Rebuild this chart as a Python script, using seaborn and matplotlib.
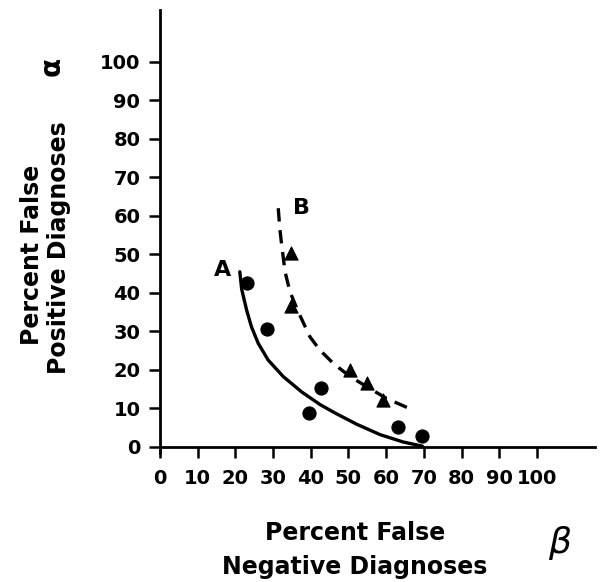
import numpy as np
import pandas as pd
import seaborn as sns
import matplotlib.pyplot as plt

# measured points (percent false negative, percent false positive)
a_x = [23.0, 28.3, 39.6, 42.6, 63.2, 69.6]
a_y = [42.5, 30.6, 8.9, 15.2, 5.1, 2.9]
b_x = [34.9, 34.9, 50.4, 54.8, 59.2]
b_y = [50.3, 36.6, 20.0, 16.5, 12.2]

# fitted curves
curve_a_x = [21.2, 21.7, 23.0, 24.3, 26.1, 28.7, 32.7, 37.6, 42.5, 46.5, 52.2, 58.4, 64.5, 69.6]
curve_a_y = [45.5, 41.0, 35.6, 31.2, 26.9, 22.6, 18.3, 14.3, 11.0, 8.8, 5.9, 3.2, 1.3, 0.2]
curve_b_x = [31.4, 31.8, 32.3, 33.2, 34.5, 36.7, 39.8, 42.4, 46.0, 50.4, 54.8, 60.1, 65.9]
curve_b_y = [62.0, 56.8, 52.5, 45.5, 40.3, 35.1, 28.6, 25.2, 21.7, 18.3, 15.7, 12.6, 10.1]

ticks = [0, 10, 20, 30, 40, 50, 60, 70, 80, 90, 100]

sns.set_style("ticks")
plt.rcParams['font.family'] = ['DejaVu Sans']
plt.rcParams['text.color'] = 'black'

fig = plt.figure(figsize=(6.03, 5.82), dpi=100)
ax = fig.add_axes([0.265, 0.232, 0.722, 0.751])

ca = pd.DataFrame({"x": curve_a_x, "y": curve_a_y})
cb = pd.DataFrame({"x": curve_b_x, "y": curve_b_y})
sns.lineplot(data=ca, x="x", y="y", sort=False, ax=ax, color="black", lw=2.4)
sns.lineplot(data=cb, x="x", y="y", sort=False, ax=ax, color="black", lw=2.4,
             linestyle=(0, (4, 2.6)))

pa = pd.DataFrame({"x": a_x, "y": a_y})
pb = pd.DataFrame({"x": b_x, "y": b_y})
sns.scatterplot(data=pa, x="x", y="y", ax=ax, color="black", marker="o", s=90,
                edgecolor="black", zorder=5)
sns.scatterplot(data=pb, x="x", y="y", ax=ax, color="black", marker="^", s=90,
                edgecolor="black", zorder=5)

ax.set_xlim(0, 115.4)
ax.set_ylim(0, 113.5)
ax.set_xticks(ticks)
ax.set_yticks(ticks)
ax.set_xticklabels([str(t) for t in ticks], fontsize=14, fontweight="bold")
ax.set_yticklabels([str(t) for t in ticks], fontsize=14, fontweight="bold")
ax.tick_params(length=8, width=1.8, direction="out", pad=6, colors="black")
ax.tick_params(axis="x", pad=8)
for s in ["top", "right"]:
    ax.spines[s].set_visible(False)
for s in ["left", "bottom"]:
    ax.spines[s].set_linewidth(2)
    ax.spines[s].set_color("black")
ax.spines["left"].set_bounds(-1.5, 113.5)
ax.set_xlabel("")
ax.set_ylabel("")

ax.text(16.5, 46, "A", fontsize=16, fontweight="bold", ha="center", va="center")
ax.text(37.5, 62, "B", fontsize=16, fontweight="bold", ha="center", va="center")

lab = dict(fontsize=17, fontweight="bold", ha="center", va="center")
fig.text(355 / 603, 1 - 533 / 582, "Percent False", **lab)
fig.text(355 / 603, 1 - 567 / 582, "Negative Diagnoses", **lab)
fig.text(560 / 603, 1 - 543 / 582, "β", fontsize=26, style="italic", ha="center", va="center")

fig.text(32 / 603, 1 - 255 / 582, "Percent False", rotation=90, **lab)
fig.text(59 / 603, 1 - 248 / 582, "Positive Diagnoses", rotation=90, **lab)
fig.text(52 / 603, 1 - 66 / 582, "α", fontsize=20, fontweight="bold", rotation=90,
         ha="center", va="center")

fig.savefig("out.png", dpi=100)
